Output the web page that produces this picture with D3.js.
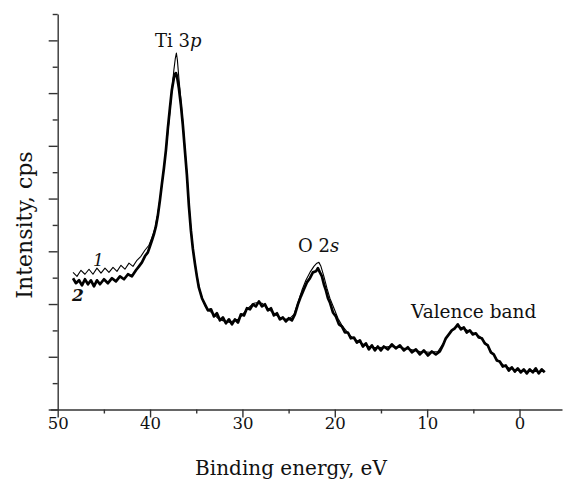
<!DOCTYPE html>
<html>
<head>
<meta charset="utf-8">
<script src="https://cdn.jsdelivr.net/npm/d3@7"></script>
<style>
    body { margin: 0; background: #fff; }
    svg text { font-family: "DejaVu Serif", "Liberation Serif", serif; fill: #111; }
</style>
</head>
<body>
<div id="chart"></div>
<script>
// spectrum 2 (thick line), binding energy in eV / intensity in tick units
var energy2 = [48.34, 48.02, 47.69, 47.37, 47.05, 46.72, 46.40, 46.07, 45.75, 45.42, 44.99, 44.56, 44.12, 43.69, 43.26, 42.82, 42.39, 41.96, 41.53, 41.20,
    40.88, 40.56, 40.24, 40.01, 39.79, 39.58, 39.36, 39.15, 38.93, 38.72, 38.50, 38.28, 38.07, 37.85, 37.64, 37.42, 37.31, 37.20, 37.09, 36.88,
    36.66, 36.45, 36.23, 36.01, 35.80, 35.58, 35.37, 35.15, 34.93, 34.72, 34.38, 34.06, 33.73, 33.40, 33.08, 32.76, 32.43, 32.11, 31.78, 31.46,
    31.13, 30.81, 30.48, 30.16, 29.83, 29.51, 29.18, 28.86, 28.54, 28.21, 27.89, 27.56, 27.24, 26.91, 26.59, 26.26, 25.94, 25.62, 25.29, 24.97,
    24.64, 24.32, 23.99, 23.67, 23.34, 23.02, 22.69, 22.37, 22.04, 21.83, 21.61, 21.39, 21.18, 20.96, 20.74, 20.53, 20.20, 19.88, 19.55, 19.23,
    18.90, 18.58, 18.26, 17.93, 17.61, 17.28, 16.96, 16.63, 16.31, 15.98, 15.66, 15.34, 15.01, 14.69, 14.25, 13.82, 13.39, 12.95, 12.52, 12.09,
    11.66, 11.22, 10.79, 10.36, 9.92, 9.49, 9.06, 8.63, 8.30, 7.98, 7.65, 7.33, 7.00, 6.68, 6.35, 6.03, 5.71, 5.38, 5.06, 4.73,
    4.41, 4.08, 3.76, 3.43, 3.11, 2.79, 2.46, 2.14, 1.81, 1.49, 1.16, 0.84, 0.51, 0.19, -0.14, -0.46, -0.79, -1.11, -1.44, -1.76,
    -2.08, -2.41, -2.73];
var counts2 = [4.98, 4.79, 4.90, 4.71, 4.94, 4.75, 4.90, 4.67, 4.90, 4.75, 4.94, 4.79, 4.98, 4.86, 5.05, 4.94, 5.13, 5.05, 5.28, 5.43,
    5.58, 5.81, 5.96, 6.19, 6.42, 6.65, 6.95, 7.37, 7.94, 8.55, 9.15, 9.84, 10.67, 11.43, 12.12, 12.57, 12.72, 12.76, 12.65, 12.19,
    11.55, 10.79, 9.84, 8.89, 7.75, 6.80, 6.11, 5.55, 5.05, 4.63, 4.22, 3.99, 3.76, 3.80, 3.53, 3.65, 3.38, 3.49, 3.27, 3.42,
    3.23, 3.42, 3.30, 3.61, 3.57, 3.84, 3.80, 3.99, 3.91, 4.10, 3.91, 3.99, 3.76, 3.84, 3.57, 3.65, 3.42, 3.49, 3.34, 3.46,
    3.38, 3.61, 3.99, 4.29, 4.56, 4.82, 4.98, 5.20, 5.24, 5.36, 5.20, 5.05, 4.75, 4.52, 4.22, 4.06, 3.68, 3.53, 3.23, 3.15,
    2.92, 2.92, 2.70, 2.73, 2.54, 2.62, 2.39, 2.51, 2.28, 2.43, 2.24, 2.39, 2.24, 2.39, 2.28, 2.47, 2.32, 2.43, 2.24, 2.36,
    2.17, 2.28, 2.09, 2.24, 2.05, 2.20, 2.09, 2.20, 2.43, 2.70, 2.85, 3.00, 3.08, 3.23, 3.04, 3.11, 2.92, 3.00, 2.85, 2.89,
    2.73, 2.70, 2.51, 2.43, 2.17, 2.09, 1.86, 1.82, 1.63, 1.67, 1.48, 1.60, 1.44, 1.56, 1.41, 1.52, 1.37, 1.52, 1.41, 1.56,
    1.37, 1.52, 1.41];

// spectrum 1 (thin line)
var energy1 = [48.34, 47.91, 47.48, 47.05, 46.61, 46.18, 45.75, 45.31, 44.88, 44.45, 44.01, 43.58, 43.15, 42.72, 42.28, 41.85, 41.42, 40.99, 40.56, 40.12,
    39.79, 39.47, 39.15, 38.82, 38.50, 38.18, 37.85, 37.64, 37.42, 37.26, 37.15, 37.04, 36.88, 36.66, 36.45, 36.23, 36.01, 35.80, 35.58, 35.37,
    35.15, 34.93, 34.61, 34.28, 33.96, 33.52, 33.08, 32.65, 32.22, 31.78, 31.35, 30.92, 30.48, 30.05, 29.62, 29.18, 28.75, 28.32, 27.89, 27.45,
    27.02, 26.59, 26.16, 25.72, 25.29, 24.86, 24.42, 23.99, 23.56, 23.13, 22.69, 22.26, 21.94, 21.72, 21.50, 21.18, 20.85, 20.53, 20.09, 19.66,
    19.23, 18.80, 18.36, 17.82, 17.28, 16.63, 15.98, 15.12, 14.04, 12.95, 11.87, 10.79, 9.71, 8.84, 8.19, 7.54, 6.89, 6.25, 5.60, 4.95,
    4.30, 3.65, 3.00, 2.35, 1.70, 1.05, 0.19, -0.89, -1.97, -2.73];
var counts1 = [5.20, 5.05, 5.28, 5.13, 5.32, 5.13, 5.36, 5.17, 5.36, 5.20, 5.39, 5.24, 5.47, 5.32, 5.55, 5.43, 5.66, 5.81, 6.04, 6.23,
    6.53, 6.87, 7.48, 8.24, 9.15, 10.14, 11.28, 12.12, 12.88, 13.33, 13.52, 13.25, 12.57, 11.74, 10.90, 9.91, 8.96, 7.86, 6.87, 6.15,
    5.58, 5.09, 4.52, 4.14, 3.87, 3.72, 3.61, 3.46, 3.38, 3.34, 3.30, 3.38, 3.42, 3.57, 3.76, 3.91, 4.03, 4.06, 4.03, 3.91,
    3.76, 3.65, 3.53, 3.46, 3.42, 3.46, 3.61, 4.06, 4.52, 4.90, 5.20, 5.43, 5.55, 5.58, 5.43, 5.05, 4.60, 4.22, 3.84, 3.46,
    3.19, 3.00, 2.81, 2.66, 2.54, 2.43, 2.35, 2.35, 2.39, 2.35, 2.28, 2.20, 2.17, 2.20, 2.54, 2.92, 3.15, 3.11, 3.00, 2.89,
    2.77, 2.51, 2.17, 1.86, 1.67, 1.56, 1.48, 1.44, 1.44, 1.44];

var xMajor = [50, 40, 30, 20, 10, 0];
var xMinor = [45, 35, 25, 15, 5];
var yMajor = [0, 2, 4, 6, 8, 10, 12, 14];
var yMinor = [1, 3, 5, 7, 9, 11, 13, 15];

var width = 568, height = 481;
var svg = d3.select('#chart')
    .append('svg')
    .attr('width', width)
    .attr('height', height);

var xScale = d3.scaleLinear().domain([50.8, -4.6]).range([50.3, 562]);
var yScale = d3.scaleLinear().domain([0, 15]).range([409.5, 14]);

// x axis, major ticks with labels
var gx = svg.append('g')
    .attr('transform', 'translate(0,' + yScale(0) + ')')
    .call(d3.axisBottom(xScale).tickValues(xMajor).tickSize(8).tickSizeOuter(0).tickFormat(d3.format('d')));
gx.selectAll('text')
    .attr('y', 19)
    .attr('dy', 0)
    .style('font-size', '16.5px');
svg.append('g')
    .attr('transform', 'translate(0,' + yScale(0) + ')')
    .call(d3.axisBottom(xScale).tickValues(xMinor).tickSize(4).tickSizeOuter(0).tickFormat(''))
    .select('.domain').remove();

// y axis, no labels
svg.append('g')
    .attr('transform', 'translate(' + xScale(50) + ',0)')
    .call(d3.axisLeft(yScale).tickValues(yMajor).tickSize(9).tickSizeOuter(0).tickFormat(''));
svg.append('g')
    .attr('transform', 'translate(' + xScale(50) + ',0)')
    .call(d3.axisLeft(yScale).tickValues(yMinor).tickSize(5).tickSizeOuter(0).tickFormat(''))
    .select('.domain').remove();

svg.selectAll('.domain, .tick line')
    .style('stroke', '#333')
    .style('stroke-width', 1.4);

var line = d3.line()
    .x(d => xScale(d[0]))
    .y(d => yScale(d[1]));

svg.append('path')
    .attr('d', line(d3.zip(energy2, counts2)))
    .style('fill', 'none')
    .style('stroke', '#000')
    .style('stroke-width', 2.7)
    .style('stroke-linejoin', 'round');

svg.append('path')
    .attr('d', line(d3.zip(energy1, counts1)))
    .style('fill', 'none')
    .style('stroke', '#000')
    .style('stroke-width', 1.1)
    .style('stroke-linejoin', 'round');

// peak labels
var t1 = svg.append('text').attr('x', 155).attr('y', 47).style('font-size', '18px');
t1.append('tspan').text('Ti 3');
t1.append('tspan').style('font-style', 'italic').text('p');

var t2 = svg.append('text').attr('x', 298).attr('y', 252).style('font-size', '18px');
t2.append('tspan').text('O 2');
t2.append('tspan').style('font-style', 'italic').text('s');

svg.append('text')
    .attr('x', 411)
    .attr('y', 318)
    .style('font-size', '18.5px')
    .text('Valence band');

svg.append('text')
    .attr('x', 93)
    .attr('y', 266)
    .style('font-size', '17px')
    .style('font-style', 'italic')
    .text('1');
svg.append('text')
    .attr('x', 72)
    .attr('y', 301)
    .style('font-size', '17px')
    .style('font-style', 'italic')
    .style('font-weight', 'bold')
    .text('2');

// axis titles
svg.append('text')
    .attr('x', 291)
    .attr('y', 475)
    .style('text-anchor', 'middle')
    .style('font-size', '20px')
    .text('Binding energy, eV');

svg.append('text')
    .attr('transform', 'translate(32,225) rotate(-90)')
    .style('text-anchor', 'middle')
    .style('font-size', '22px')
    .text('Intensity, cps');
</script>
</body>
</html>
